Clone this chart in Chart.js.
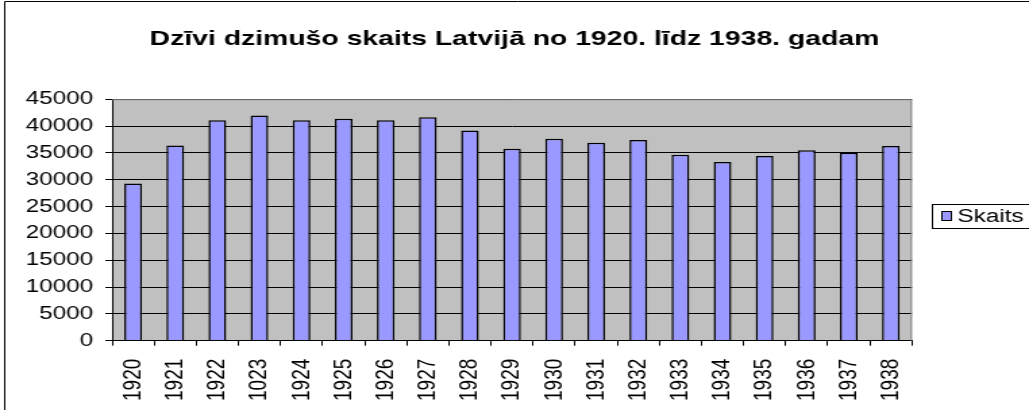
<!DOCTYPE html>
<html>
<head>
<meta charset="utf-8">
<script src="https://cdn.jsdelivr.net/npm/chart.js@4.4.0/dist/chart.umd.min.js"></script>
<style>
  html, body { margin: 0; padding: 0; background: #fff; overflow: hidden; }
  #wrap { width: 762px; height: 410px; transform: scaleX(1.3504); transform-origin: 0 0; }
</style>
</head>
<body>
<div id="wrap"><canvas id="chart" width="762" height="410"></canvas></div>
<script>
// years as written on the original chart (the "1023" typo is in the source)
const years = ['1920', '1921', '1922', '1023', '1924', '1925', '1926', '1927', '1928', '1929',
               '1930', '1931', '1932', '1933', '1934', '1935', '1936', '1937', '1938'];
const births = [29300, 36350, 41100, 41950, 41100, 41350, 41100, 41650, 39150, 35750,
                37650, 36900, 37400, 34650, 33300, 34400, 35500, 35000, 36300];
const yTicks = [0, 5000, 10000, 15000, 20000, 25000, 30000, 35000, 40000, 45000];
const seriesName = 'Skaits';
const titleText = 'Dzīvi dzimušo skaits Latvijā no 1920. līdz 1938. gadam';

const barFill = '#9999FF';
const fontFamily = '"Liberation Sans", Arial, sans-serif';

// grey plot background + outer frame
const backdrop = {
    id: 'backdrop',
    beforeDraw(chart) {
        const ctx = chart.ctx;
        const a = chart.chartArea;
        ctx.save();
        ctx.fillStyle = '#C0C0C0';
        ctx.fillRect(a.left, a.top, a.right - a.left, a.bottom - a.top);
        ctx.strokeStyle = '#000';
        ctx.lineWidth = 1;
        ctx.beginPath();
        ctx.moveTo(3.5, 420);
        ctx.lineTo(3.5, 1.5);
        ctx.lineTo(800, 1.5);
        ctx.stroke();
        ctx.restore();
    },
    afterDatasetsDraw(chart) {
        const ctx = chart.ctx;
        const a = chart.chartArea;
        ctx.save();
        ctx.strokeStyle = '#808080';
        ctx.lineWidth = 1;
        ctx.beginPath();
        ctx.moveTo(a.left, a.top + 0.5);
        ctx.lineTo(a.right - 0.5, a.top + 0.5);
        ctx.lineTo(a.right - 0.5, a.bottom);
        ctx.stroke();
        ctx.restore();
    }
};

// boxed legend on the right, like the Excel one
const boxLegend = {
    id: 'boxLegend',
    afterDraw(chart) {
        const ctx = chart.ctx;
        ctx.save();
        ctx.strokeStyle = '#000';
        ctx.lineWidth = 1;
        ctx.strokeRect(690.5, 204.5, 90, 24);
        ctx.fillStyle = barFill;
        ctx.fillRect(697.5, 211.5, 7, 9);
        ctx.strokeRect(697.5, 211.5, 7, 9);
        ctx.fillStyle = '#000';
        ctx.font = '18px ' + fontFamily;
        ctx.textBaseline = 'middle';
        ctx.fillText(seriesName, 709, 217);
        ctx.restore();
    }
};

const ctx = document.getElementById('chart').getContext('2d');
const chart = new Chart(ctx, {
    type: 'bar',
    data: {
        labels: years,
        datasets: [{
            label: seriesName,
            data: births,
            backgroundColor: barFill,
            borderColor: '#000',
            borderWidth: 1.5,
            barPercentage: 0.42,
            categoryPercentage: 1,
            yAxisID: 'y'
        }]
    },
    options: {
        responsive: false,
        animation: false,
        layout: { padding: 0 },
        plugins: {
            legend: { display: false },
            tooltip: { enabled: false },
            title: {
                display: true,
                text: titleText,
                color: '#000',
                font: { family: fontFamily, size: 21, weight: 'bold' },
                padding: { top: 27, bottom: 47 }
            }
        },
        scales: {
            x: {
                grid: {
                    display: true,
                    drawOnChartArea: false,
                    offset: true,
                    color: '#000',
                    tickLength: 5
                },
                border: { color: '#000', width: 1 },
                ticks: {
                    color: '#000',
                    font: { family: fontFamily, size: 19 },
                    minRotation: 90,
                    maxRotation: 90,
                    autoSkip: false,
                    padding: 13
                },
                afterFit(scale) { scale.height = 69.3; }
            },
            y: {
                min: 0,
                max: 45000,
                afterBuildTicks(scale) { scale.ticks = yTicks.map(v => ({ value: v })); },
                grid: { color: '#000', tickLength: 5 },
                border: { color: '#000', width: 1 },
                ticks: {
                    color: '#000',
                    font: { family: fontFamily, size: 18 },
                    padding: 9,
                    callback: v => String(v)
                },
                afterFit(scale) { scale.width = 83; }
            },
            // empty strip on the right that leaves room for the legend box
            legendRoom: {
                type: 'linear',
                position: 'right',
                display: true,
                grid: { display: false },
                border: { display: false },
                ticks: { display: false },
                afterFit(scale) { scale.width = 86.7; }
            }
        }
    },
    plugins: [backdrop, boxLegend]
});
</script>
</body>
</html>
